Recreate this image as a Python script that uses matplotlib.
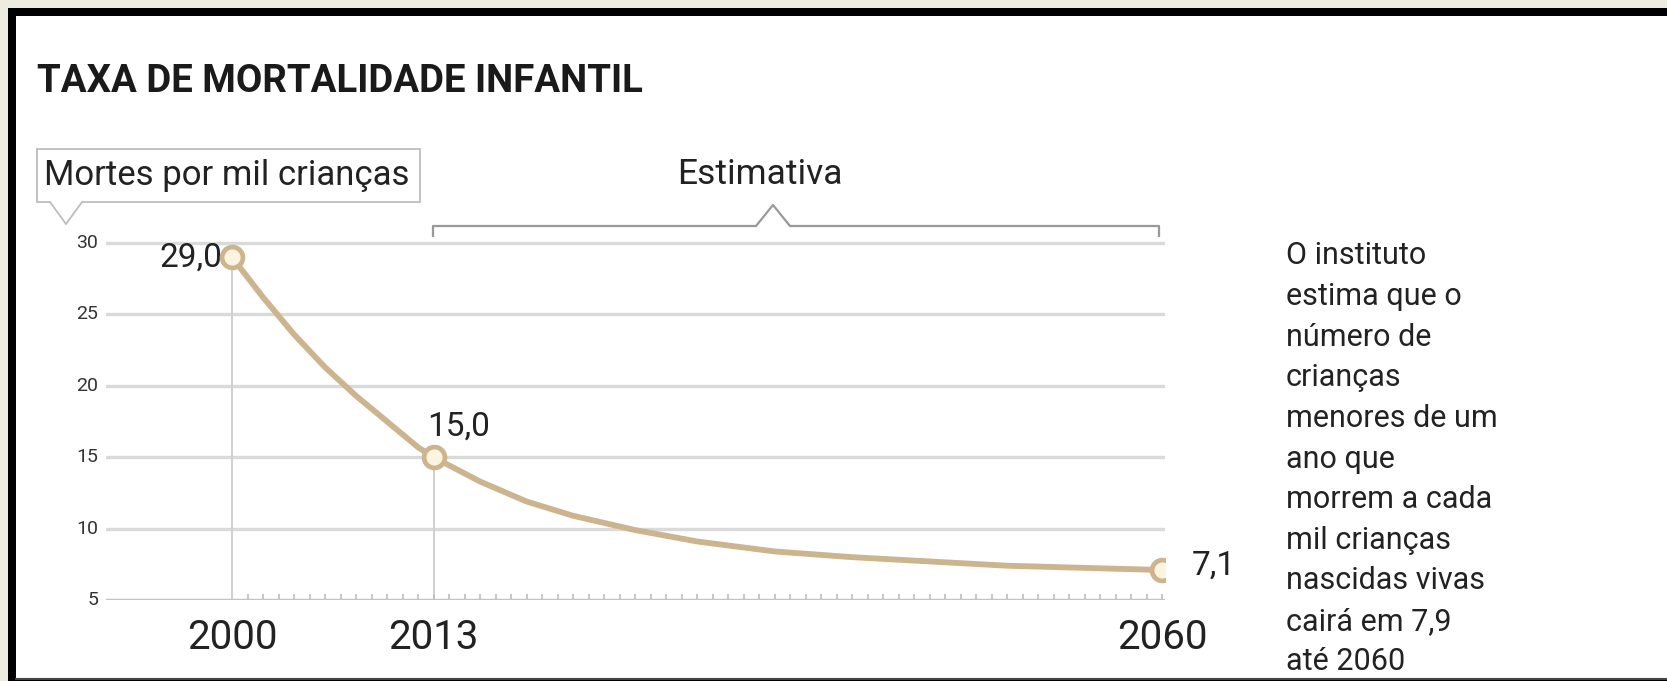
import matplotlib
matplotlib.use("Agg")
import matplotlib.pyplot as plt
from matplotlib.patches import Rectangle, Polygon

plt.rcParams['font.family'] = ['Roboto', 'DejaVu Sans']

# labelled values
years = [2000, 2013, 2060]
rates = [29.0, 15.0, 7.1]
labels = ["29,0", "15,0", "7,1"]

# points
curve_years = [2000, 2002, 2004, 2006, 2008, 2010, 2012, 2013, 2016, 2019, 2022, 2026, 2030, 2035, 2040, 2045, 2050, 2055, 2060]
curve_rates = [29.0, 26.2, 23.6, 21.3, 19.3, 17.5, 15.7, 15.0, 13.3, 11.9, 10.9, 9.9, 9.1, 8.4, 8.0, 7.7, 7.4, 7.25, 7.1]

yticks = [5, 10, 15, 20, 25, 30]
xticks = [2000, 2013, 2060]

note = ["O instituto", "estima que o", "número de", "crianças", "menores de um", "ano que",
        "morrem a cada", "mil crianças", "nascidas vivas", "cairá em 7,9", "até 2060"]

W, H = 1667, 681
fig = plt.figure(figsize=(W / 100, H / 100), dpi=100)
fig.patch.set_facecolor('#eeebe0')

# white panel with black frame, drawn in pixel units
bg = fig.add_axes([0, 0, 1, 1])
bg.set_xlim(0, W)
bg.set_ylim(H, 0)
bg.axis('off')
bg.add_patch(Rectangle((8, 8), W, H, facecolor='black', edgecolor='none'))
bg.add_patch(Rectangle((16, 16), W, H - 18, facecolor='white', edgecolor='none'))
bg.plot([16, W], [679, 679], color='#444444', lw=1.5)

tan = '#ccb48f'
grid = '#dadada'
ink = '#222222'

bg.text(37, 81, "TAXA DE MORTALIDADE INFANTIL", fontsize=27.6, fontweight='bold',
        color='#1a1a1a', va='center', ha='left')
bg.add_patch(Polygon([(37, 149), (420, 149), (420, 202), (82, 202), (66, 224), (50, 202), (37, 202)],
                     closed=True, facecolor='white', edgecolor='#bdbdbd', lw=1.3))
bg.text(44, 176, "Mortes por mil crianças", fontsize=25, color=ink, va='center', ha='left')
bg.text(760, 174, "Estimativa", fontsize=25.5, color=ink, va='center', ha='center')
bg.plot([433, 433, 756, 773, 790, 1159, 1159], [236, 226, 226, 205, 226, 226, 236],
        color='#999999', lw=1.6)

for i, line in enumerate(note):
    bg.text(1286, 256 + i * 40.6, line, fontsize=22, color=ink, va='center', ha='left')

# chart axes: 2000 -> px 232, 2060 -> px 1162, value 5 -> px 600, 30 -> px 243
ppy = 15.5
ppv = 14.28
x0 = 2000 - 126 / ppy
x1 = 2060 + 3 / ppy
ax = fig.add_axes([106 / W, 1 - 600 / H, 1059 / W, 25.5 * ppv / H])
ax.set_xlim(x0, x1)
ax.set_ylim(5, 30.5)
ax.patch.set_alpha(0)
for s in ax.spines.values():
    s.set_visible(False)
ax.set_xticks([])
ax.set_yticks([])

for v in yticks:
    ax.axhline(v, color=grid, lw=2.4, zorder=1)
    ax.text(x0 - 0.5, v, str(v), fontsize=14, color='#333333', ha='right', va='center')

ax.vlines(years[:2], 5, rates[:2], color='#cfcfcf', lw=1.4, zorder=1)
ax.vlines(range(2001, 2061), 5, 5.45, color='#bdbdbd', lw=1.2, zorder=1)
ax.axhline(5, color='#c4c4c4', lw=2.4, zorder=1)

ax.plot(curve_years, curve_rates, color=tan, lw=4.2, zorder=3,
        solid_capstyle='round', solid_joinstyle='round')
ax.plot(years, rates, 'o', ms=15, mfc='#fdf4e0', mec=tan, mew=3.4, zorder=4)

ax.text(years[0] - 0.6, rates[0], labels[0], fontsize=24, color=ink, ha='right', va='center')
ax.text(years[1] - 0.4, rates[1] + 1.0, labels[1], fontsize=24, color=ink, ha='left', va='bottom')
ax.text(years[2] + 1.9, rates[2] + 0.3, labels[2], fontsize=24, color=ink, ha='left', va='center')

for t in xticks:
    ax.text(t, 2.35, str(t), fontsize=29, color=ink, ha='center', va='center')

fig.savefig('out.png', dpi=100, facecolor=fig.get_facecolor())
